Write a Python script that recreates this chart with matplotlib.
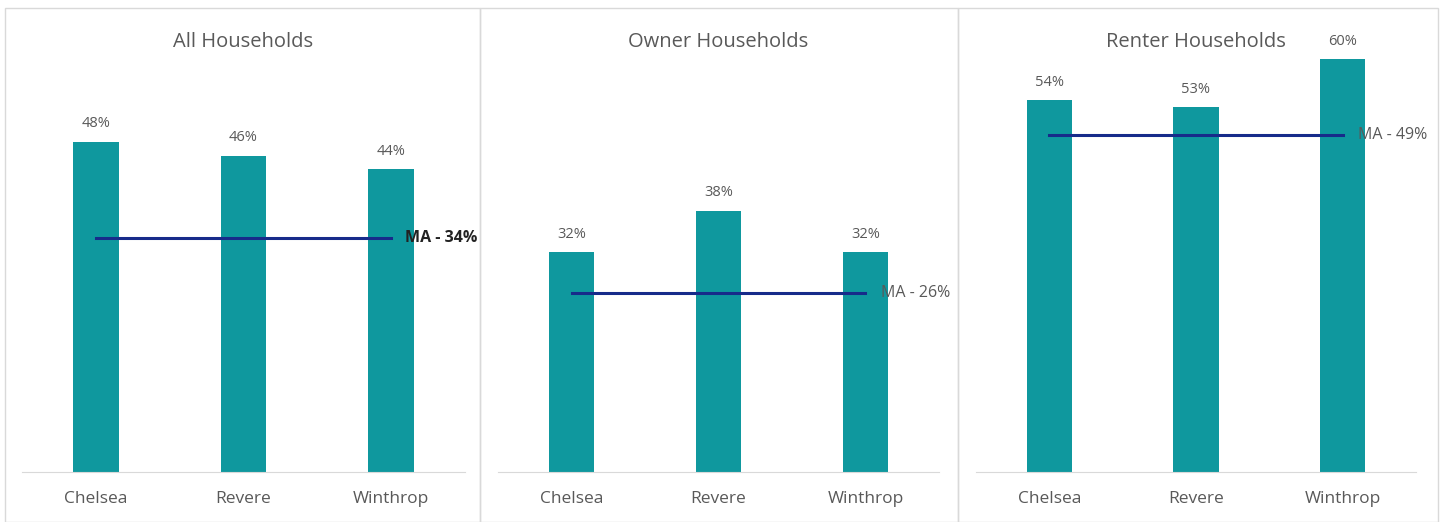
import matplotlib.pyplot as plt
from matplotlib.patches import Rectangle

plt.rcParams['font.family'] = ['Open Sans', 'DejaVu Sans']

# data
towns = ["Chelsea", "Revere", "Winthrop"]
titles = ["All Households", "Owner Households", "Renter Households"]
all_hh = [48, 46, 44]
owner_hh = [32, 38, 32]
renter_hh = [54, 53, 60]
ma_values = [34, 26, 49]

bar_color = '#0f989e'
line_color = '#172b8a'
text_color = '#595959'

W, H = 1442, 522
fig = plt.figure(figsize=(W / 100, H / 100), dpi=100)

# panel frames (pixels): left, right
frames = [(5, 480), (480, 958), (958, 1438)]
for x0, x1 in frames:
    fig.patches.append(Rectangle((x0 / W, 0), (x1 - x0) / W, 1 - 8 / H,
                                 transform=fig.transFigure, fill=False,
                                 edgecolor='#d9d9d9', linewidth=1.0))

# plot areas (pixels): left, right
areas = [(22, 465), (498, 939), (976, 1416)]
base_y = 472
px_per_pct = 6.88
ymax = 66
series = [all_hh, owner_hh, renter_hh]

for i, (vals, title, ma) in enumerate(zip(series, titles, ma_values)):
    x0, x1 = areas[i]
    ax = fig.add_axes([x0 / W, 1 - base_y / H, (x1 - x0) / W, ymax * px_per_pct / H])
    xs = range(len(towns))
    ax.bar(xs, vals, width=0.31, color=bar_color, zorder=2)
    ax.set_xlim(-0.5, 2.5)
    ax.set_ylim(0, ymax)
    for x, v in zip(xs, vals):
        ax.text(x, v + 1.5, f"{v}%", ha='center', va='bottom', fontsize=10.5, color=text_color)
    ax.plot([0, 2], [ma, ma], color=line_color, linewidth=2.2, zorder=3)
    if i == 0:
        ax.annotate(f"MA - {ma}%", (2, ma), xytext=(10, 0), textcoords='offset points',
                    va='center', ha='left', fontsize=11.5, fontweight='bold', color='#222222',
                    zorder=4)
    else:
        ax.annotate(f"MA - {ma}%", (2, ma), xytext=(11, 0), textcoords='offset points',
                    va='center', ha='left', fontsize=11.5, color=text_color, zorder=4)
    ax.set_xticks(list(xs))
    ax.set_xticklabels(towns, fontsize=12.5, color=text_color)
    ax.tick_params(axis='x', length=0, pad=14)
    ax.set_yticks([])
    for s in ['top', 'right', 'left']:
        ax.spines[s].set_visible(False)
    ax.spines['bottom'].set_color('#d9d9d9')
    ax.patch.set_alpha(0)
    fig.text((x0 + x1) / 2 / W, 1 - 42 / H, title, ha='center', va='center',
             fontsize=14.5, color=text_color)

fig.savefig('out.png', dpi=100)
